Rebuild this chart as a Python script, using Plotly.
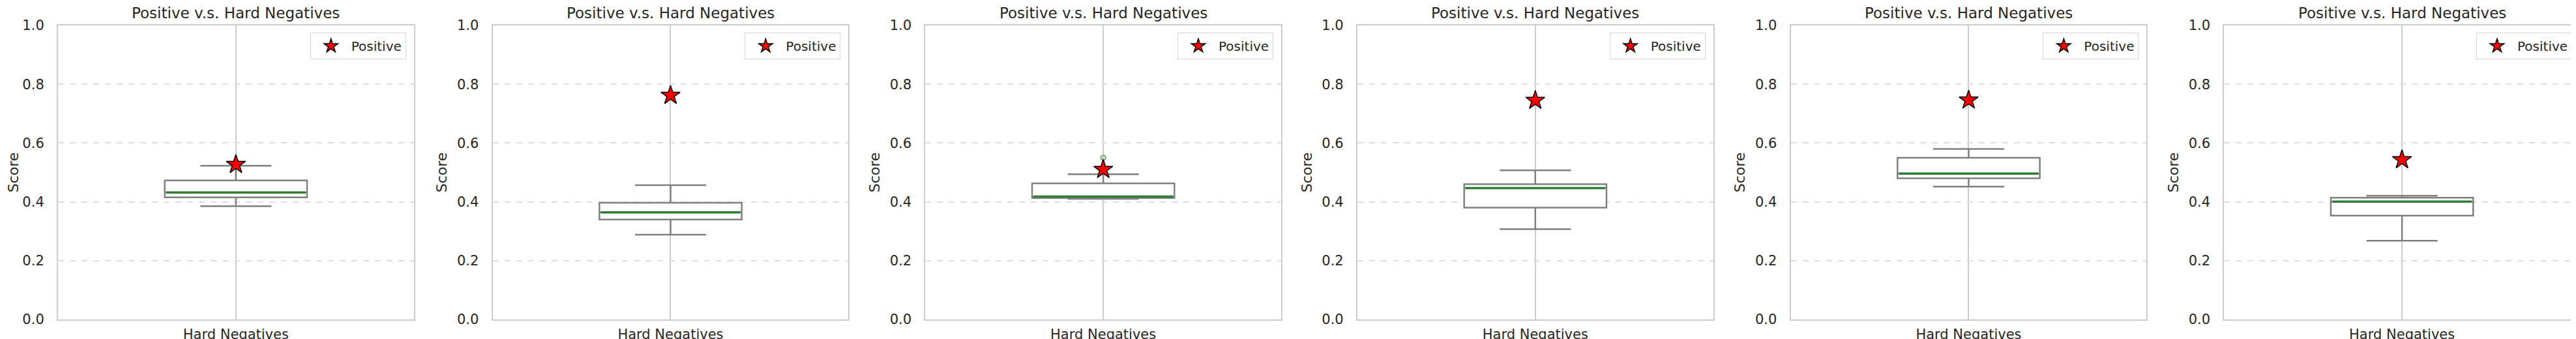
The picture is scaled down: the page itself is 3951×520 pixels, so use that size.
import plotly.graph_objects as go

# ---- data ----
category = ["Hard Negatives"]
positive_score = [0.527, 0.762, 0.510, 0.745, 0.746, 0.543]
upper_whisker = [0.523, 0.457, 0.494, 0.507, 0.580, 0.421]
q3_values = [0.473, 0.397, 0.463, 0.460, 0.550, 0.414]
median_values = [0.432, 0.364, 0.418, 0.447, 0.496, 0.401]
q1_values = [0.415, 0.340, 0.413, 0.380, 0.480, 0.353]
lower_whisker = [0.385, 0.288, 0.410, 0.307, 0.452, 0.268]
outlier_values = [[], [], [0.550], [], [], []]
y_ticks = [0.0, 0.2, 0.4, 0.6, 0.8, 1.0]
y_tick_labels = ["0.0", "0.2", "0.4", "0.6", "0.8", "1.0"]
panel_title = "Positive v.s. Hard Negatives"
y_label = "Score"
legend_label = "Positive"

# ---- layout geometry ----
W, H = 3951, 520
M_TOP, M_BOT = 31, 38
PLOT_H = H - M_TOP - M_BOT
lefts = [81, 748, 1412, 2075, 2740, 3405]
PW = 546
BOX_W = 0.4

FONT = "DejaVu Sans"
TXT = "#262626"
FRAME = "#cccccc"
GRID = "#dedede"
BOXLINE = "#808080"
MEDIAN = "#2e7d32"

fig = go.Figure()
n = len(positive_score)
annotations = []
for i in range(n):
    k = "" if i == 0 else str(i + 1)
    xa, ya = "x" + k, "y" + k
    leg = "legend" + k
    x0 = lefts[i] / W
    x1 = (lefts[i] + PW) / W

    fig.add_trace(go.Box(
        x=[0], q1=[q1_values[i]], median=[median_values[i]], q3=[q3_values[i]],
        lowerfence=[lower_whisker[i]], upperfence=[upper_whisker[i]],
        width=BOX_W, whiskerwidth=0.5, fillcolor="white",
        line=dict(color=BOXLINE, width=2.5), boxpoints=False,
        showlegend=False, hoverinfo="skip", xaxis=xa, yaxis=ya,
    ))
    # green median line over the box
    fig.add_trace(go.Scatter(
        x=[-BOX_W / 2 + 0.004, BOX_W / 2 - 0.004], y=[median_values[i]] * 2,
        mode="lines", line=dict(color=MEDIAN, width=3.5),
        showlegend=False, hoverinfo="skip", xaxis=xa, yaxis=ya,
    ))
    if outlier_values[i]:
        fig.add_trace(go.Scatter(
            x=[0] * len(outlier_values[i]), y=outlier_values[i], mode="markers",
            marker=dict(symbol="circle", size=8, color="#b9dcb9",
                        line=dict(color=BOXLINE, width=1.2)),
            showlegend=False, hoverinfo="skip", xaxis=xa, yaxis=ya,
        ))
    fig.add_trace(go.Scatter(
        x=[0], y=[positive_score[i]], mode="markers", name=legend_label,
        marker=dict(symbol="star", size=22, color="red",
                    line=dict(color="black", width=1.5)),
        showlegend=True, legend=leg, xaxis=xa, yaxis=ya,
    ))

    axis_common = dict(showline=True, mirror=True, linecolor=FRAME, linewidth=2,
                       zeroline=False, tickfont=dict(family=FONT, size=21, color=TXT))
    fig.layout["xaxis" + k] = dict(
        domain=[x0, x1], anchor=ya, range=[-0.5, 0.5],
        tickvals=[0], ticktext=category, showgrid=True, gridcolor=FRAME, gridwidth=1.5,
        ticks="outside", ticklen=3, tickcolor="rgba(0,0,0,0)", **axis_common)
    fig.layout["yaxis" + k] = dict(
        domain=[0, 1], anchor=xa, range=[0, 1], tickvals=y_ticks, ticktext=y_tick_labels,
        showgrid=True, gridcolor=GRID, gridwidth=1.5, griddash="dash",
        ticks="outside", ticklen=15, tickcolor="rgba(0,0,0,0)",
        title=dict(text=y_label, font=dict(family=FONT, size=22, color=TXT), standoff=9),
        **axis_common)
    fig.layout[leg] = dict(
        x=(lefts[i] + PW - 12) / W, xanchor="right", y=1 - 11 / PLOT_H, yanchor="top",
        bgcolor="white", bordercolor="#d6d6d6", borderwidth=1, itemwidth=52,
        font=dict(family=FONT, size=20, color=TXT),
    )
    annotations.append(dict(
        text=panel_title, x=(x0 + x1) / 2, xref="paper", y=1, yref="paper",
        xanchor="center", yanchor="bottom", yshift=4, showarrow=False,
        font=dict(family=FONT, size=23, color=TXT),
    ))

fig.update_layout(
    width=W, height=H, margin=dict(l=0, r=0, t=M_TOP, b=M_BOT),
    paper_bgcolor="white", plot_bgcolor="white",
    font=dict(family=FONT, color=TXT), annotations=annotations,
)

fig.write_html("out.html")
